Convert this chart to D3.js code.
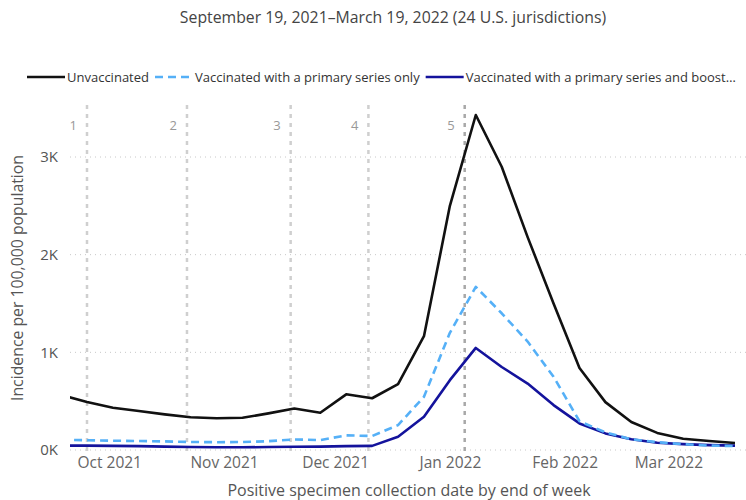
<!DOCTYPE html>
<html>
<head>
<meta charset="utf-8">
<script src="https://cdn.jsdelivr.net/npm/d3@7"></script>
<style>
  body { margin: 0; background: #fff; }
  svg { font-family: "Open Sans", "Noto Sans", sans-serif; }
</style>
</head>
<body>
<svg id="chart" width="746" height="500"></svg>
<script>
// week-ending dates (Saturdays)
var weeks = ["2021-09-18", "2021-09-25", "2021-10-02", "2021-10-09", "2021-10-16", "2021-10-23",
    "2021-10-30", "2021-11-06", "2021-11-13", "2021-11-20", "2021-11-27", "2021-12-04",
    "2021-12-11", "2021-12-18", "2021-12-25", "2022-01-01", "2022-01-08", "2022-01-15",
    "2022-01-22", "2022-01-29", "2022-02-05", "2022-02-12", "2022-02-19", "2022-02-26",
    "2022-03-05", "2022-03-12", "2022-03-19"];

var unvaccinated = [565, 491, 432, 400, 365, 335, 325, 330, 375, 425, 382, 570,
    530, 675, 1165, 2500, 3430, 2900, 2180, 1500, 840, 490, 287, 175, 115, 92, 72];
var primaryOnly = [105, 100, 95, 92, 88, 82, 80, 82, 90, 108, 102, 150,
    143, 255, 545, 1200, 1670, 1400, 1110, 750, 295, 180, 110, 80, 60, 45, 40];
var boosted = [45, 45, 42, 40, 35, 30, 28, 28, 30, 33, 35, 40,
    42, 135, 340, 715, 1045, 850, 680, 460, 272, 170, 110, 75, 60, 50, 45];

var periodDates = ["2021-09-25", "2021-10-22", "2021-11-19", "2021-12-10", "2022-01-05"];
var periodLabels = ["1", "2", "3", "4", "5"];

var yTicks = [0, 1000, 2000, 3000];
var monthTicks = ["2021-10-01", "2021-11-01", "2021-12-01", "2022-01-01", "2022-02-01", "2022-03-01"];

var series = [
    {name: "Unvaccinated", values: unvaccinated, color: "#111111", dash: null},
    {name: "Vaccinated with a primary series only", values: primaryOnly, color: "#55b0f7", dash: "8,5"},
    {name: "Vaccinated with a primary series and boost\u2026", values: boosted, color: "#14139c", dash: null}
];

var parse = d3.timeParse("%Y-%m-%d");
var svg = d3.select('#chart');

var plot = {left: 70, right: 746, top: 105, bottom: 450};

var x = d3.scaleTime()
    .domain([parse("2021-09-25"), parse("2022-03-19")])
    .range([87, 735]);
var y = d3.scaleLinear()
    .domain([0, 3000])
    .range([450, 157]);

svg.append('clipPath').attr('id', 'clip')
    .append('rect')
    .attr('x', plot.left).attr('y', 0)
    .attr('width', plot.right - plot.left).attr('height', 500);

// title
svg.append('text')
    .attr('x', 393).attr('y', 23)
    .attr('text-anchor', 'middle')
    .style('font-size', '15.8px')
    .style('fill', '#444')
    .text('September 19, 2021\u2013March 19, 2022 (24 U.S. jurisdictions)');

// legend: items laid out one after another
var legend = svg.append('g').attr('class', 'legend');
var lx = 27;
series.forEach(function(s, i) {
    var g = legend.append('g').attr('transform', 'translate(' + lx + ',77)');
    g.append('line')
        .attr('x1', 0).attr('x2', 38)
        .attr('stroke', s.color)
        .attr('stroke-width', 2.5)
        .attr('stroke-dasharray', s.dash);
    var t = g.append('text')
        .attr('x', 40).attr('y', 4.5)
        .style('font-size', '13px')
        .style('fill', '#333')
        .text(s.name);
    lx += 40 + t.node().getComputedTextLength() + 6;
});

// horizontal gridlines
svg.append('g').selectAll('line.grid')
    .data(yTicks)
    .enter()
    .append('line')
    .classed('grid', true)
    .attr('x1', plot.left).attr('x2', plot.right)
    .attr('y1', function(d) { return y(d); })
    .attr('y2', function(d) { return y(d); })
    .attr('stroke', '#c8c8c8')
    .attr('stroke-width', 1)
    .attr('stroke-dasharray', '1,4');

// y axis labels
var yAxis = d3.axisLeft(y)
    .tickValues(yTicks)
    .tickSize(0)
    .tickPadding(0)
    .tickFormat(function(d) { return (d / 1000) + 'K'; });
var yg = svg.append('g').attr('transform', 'translate(58,0)').call(yAxis);
yg.select('.domain').remove();
yg.selectAll('text')
    .style('font-size', '15px')
    .style('fill', '#555')
    .style('font-family', '"Open Sans", sans-serif');

// x axis labels
var xAxis = d3.axisBottom(x)
    .tickValues(monthTicks.map(parse))
    .tickSize(0)
    .tickPadding(0)
    .tickFormat(d3.timeFormat('%b %Y'));
var xg = svg.append('g').attr('transform', 'translate(0,457)').call(xAxis);
xg.select('.domain').remove();
xg.selectAll('text')
    .style('font-size', '15.5px')
    .style('fill', '#666')
    .style('font-family', '"Open Sans", sans-serif');

// axis titles
svg.append('text')
    .attr('transform', 'translate(23,278) rotate(-90)')
    .attr('text-anchor', 'middle')
    .style('font-size', '15.8px')
    .style('fill', '#555')
    .text('Incidence per 100,000 population');
svg.append('text')
    .attr('x', 409).attr('y', 496)
    .attr('text-anchor', 'middle')
    .style('font-size', '16px')
    .style('fill', '#555')
    .text('Positive specimen collection date by end of week');

// period markers
var markers = svg.append('g');
markers.selectAll('line')
    .data(periodDates)
    .enter()
    .append('line')
    .attr('x1', function(d) { return x(parse(d)); })
    .attr('x2', function(d) { return x(parse(d)); })
    .attr('y1', plot.top).attr('y2', 455)
    .attr('stroke', function(d, i) { return i == 4 ? '#a8a8a8' : '#cfcfcf'; })
    .attr('stroke-width', 2.5)
    .attr('stroke-dasharray', '4,5');
markers.selectAll('text')
    .data(periodDates)
    .enter()
    .append('text')
    .attr('x', function(d) { return x(parse(d)) - 10; })
    .attr('y', 130)
    .attr('text-anchor', 'end')
    .style('font-size', '13px')
    .style('fill', '#999')
    .text(function(d, i) { return periodLabels[i]; });

// lines
var lines = svg.append('g').attr('clip-path', 'url(#clip)');
series.slice().reverse().forEach(function(s) {
    var line = d3.line()
        .x(function(d, i) { return x(parse(weeks[i])); })
        .y(function(d) { return y(d); });
    lines.append('path')
        .datum(s.values)
        .attr('d', line)
        .attr('fill', 'none')
        .attr('stroke', s.color)
        .attr('stroke-width', 2.6)
        .attr('stroke-linejoin', 'round')
        .attr('stroke-dasharray', s.dash);
});
</script>
</body>
</html>
